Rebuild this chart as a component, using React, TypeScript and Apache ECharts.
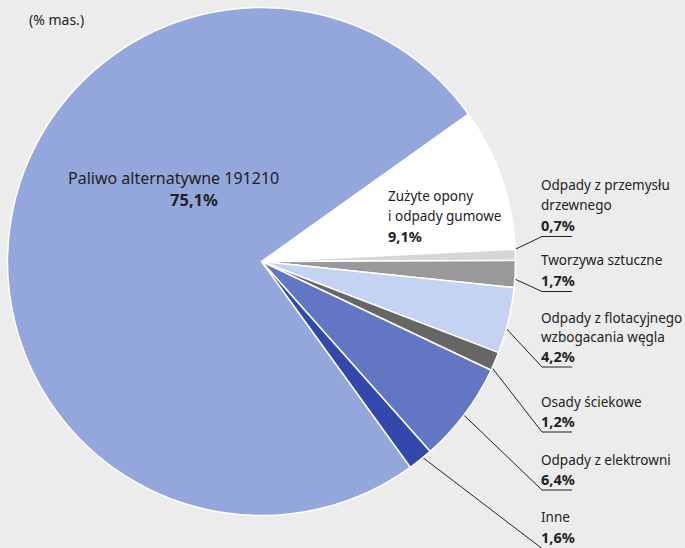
import React, { useEffect, useRef } from "react";
import * as echarts from "echarts";

// Data (pie drawn clockwise from the white slice)
const categories = [
  "Zużyte opony\ni odpady gumowe",
  "Odpady z przemysłu\ndrzewnego",
  "Tworzywa sztuczne",
  "Odpady z flotacyjnego\nwzbogacania węgla",
  "Osady ściekowe",
  "Odpady z elektrowni",
  "Inne",
  "Paliwo alternatywne 191210",
];
const values = [9.1, 0.7, 1.7, 4.2, 1.2, 6.4, 1.6, 75.1];
const unitLabel = "(% mas.)";

// Styles / layout
const colors = ["#ffffff", "#d6d6d6", "#999999", "#c3d3f1", "#666666", "#6276c4", "#3249ab", "#93a7dc"];
const insideLabel = [true, false, false, false, false, false, false, true];
const labelPos: [number, number][] = [
  [388, 186],
  [541, 175],
  [541, 250],
  [541, 308.5],
  [541, 392.5],
  [541, 450.5],
  [541, 507],
];
labelPos.push([68, 167.5]);
const nameSize = [13.5, 13.5, 13.5, 13.5, 13.5, 13.5, 13.5, 16];
const pctSize = [14.5, 14.5, 14.5, 14.5, 14.5, 14.5, 14.5, 16.5];
const lineH = [20, 20, 20, 19, 19, 19, 20, 21];
const pctPadLeft = [0, 0, 0, 0, 0, 0, 0, 102];

const CX = 261.5;
const CY = 261.5;
const R = 254;
const START = 35.5;
const FONT = "Noto Sans";

export default function App() {
  const ref = useRef<HTMLDivElement>(null);
  useEffect(() => {
    if (!ref.current) return;
    const chart = echarts.init(ref.current, null, { renderer: "svg" });
    const total = values.reduce((a, b) => a + b, 0);
    const mids: number[] = [];
    let acc = 0;
    values.forEach((v) => {
      const a0 = START - (acc / total) * 360;
      acc += v;
      const a1 = START - (acc / total) * 360;
      mids.push((a0 + a1) / 2);
    });
    const fmt = (v: number) => v.toFixed(1).replace(".", ",") + "%";
    const rich: any = {};
    categories.forEach((_, i) => {
      rich["n" + i] = {
        fontFamily: FONT,
        fontSize: nameSize[i],
        color: "#222",
        lineHeight: lineH[i],
      };
      rich["b" + i] = {
        fontFamily: FONT,
        fontSize: pctSize[i],
        fontWeight: "bold",
        color: "#222",
        lineHeight: lineH[i],
        padding: [0, 0, 0, pctPadLeft[i]],
      };
    });
    const data = categories.map((name, i) => ({
      name,
      value: values[i],
      itemStyle: { color: colors[i] },
      labelLine: { show: !insideLabel[i] },
      label: {
        formatter: () =>
          name
            .split("\n")
            .map((l) => `{n${i}|${l}}`)
            .join("\n") + `\n{b${i}|${fmt(values[i])}}`,
      },
    }));
    chart.setOption({
      animation: false,
      backgroundColor: "#ececec",
      title: {
        text: unitLabel,
        left: 29,
        top: 12,
        padding: 0,
        textStyle: { fontFamily: FONT, fontSize: 14, fontWeight: "normal", color: "#222" },
      },
      series: [
        {
          type: "pie",
          center: [CX, CY],
          radius: R,
          startAngle: START,
          clockwise: true,
          avoidLabelOverlap: false,
          itemStyle: { borderColor: "#ffffff", borderWidth: 1.5 },
          label: {
            show: true,
            position: "outside",
            width: 240,
            rich,
          },
          labelLine: {
            show: true,
            lineStyle: { color: "#222", width: 1 },
          },
          labelLayout: (params: any) => {
            const i = params.dataIndex;
            const [x, y] = labelPos[i];
            const res: any = { x, y, align: "left", verticalAlign: "top" };
            if (!insideLabel[i]) {
              const a = (mids[i] * Math.PI) / 180;
              const rr = R * 0.95;
              const sx = CX + rr * Math.cos(a);
              const sy = CY - rr * Math.sin(a);
              const lines = categories[i].split("\n").length + 1;
              const by = y + lines * lineH[i] + 1.5;
              res.labelLinePoints = [
                [sx, sy],
                [x + 1, by],
                [x + 31, by],
              ];
            }
            return res;
          },
          data,
        },
      ],
    });
    return () => chart.dispose();
  }, []);
  return (
    <div
      ref={ref}
      style={{ position: "fixed", left: 0, top: 0, width: 685, height: 548 }}
    />
  );
}
